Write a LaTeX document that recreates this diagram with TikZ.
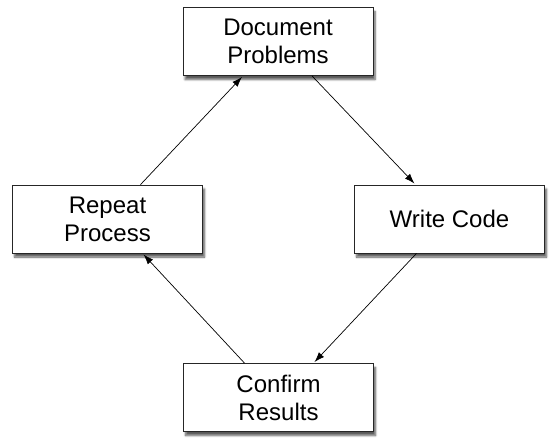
\documentclass[tikz,border=0pt]{standalone}
\usepackage{fontspec}
\setmainfont{Liberation Sans}
\usetikzlibrary{arrows.meta,shadows.blur,calc}
\begin{document}
\begin{tikzpicture}[x=1pt,y=-1pt,
  box/.style={draw=black!85, line width=0.8pt, fill=white,
    minimum width=190pt, minimum height=68pt, inner sep=0pt, align=center,
    font=\fontsize{24}{28}\selectfont,
    blur shadow={shadow xshift=2pt, shadow yshift=-4pt, shadow blur steps=6, shadow opacity=65}},
  arr/.style={-{Latex[length=10pt,width=7pt]}, line width=0.7pt, shorten >=1.5pt}]
\useasboundingbox (0,0) rectangle (556,447);
\node[box] (doc) at (278,41.5) {Document\\Problems};
\node[box] (wri) at (449.5,219) {Write Code};
\node[box] (rep) at (107.5,219) {Repeat\\Process};
\node[box] (con) at (278.5,397.5) {Confirm\\Results};
\draw[arr] ($(rep.north)+(33,0)$) -- ($(doc.south)+(-35,0)$);
\draw[arr] ($(doc.south)+(34,0)$) -- ($(wri.north)+(-34,0)$);
\draw[arr] ($(wri.south)+(-33,0)$) -- ($(con.north)+(35,0)$);
\draw[arr] ($(con.north)+(-34,0)$) -- ($(rep.south)+(35,0)$);
\end{tikzpicture}
\end{document}
